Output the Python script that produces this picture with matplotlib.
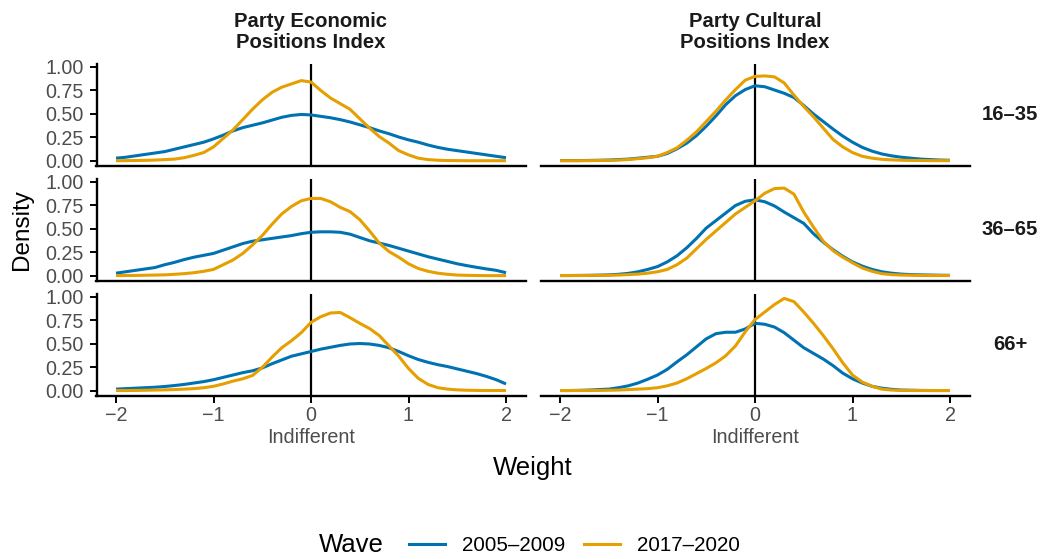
import numpy as np
import matplotlib.pyplot as plt
from matplotlib.lines import Line2D

plt.rcParams['font.family'] = ['Liberation Sans', 'DejaVu Sans']

# ------------------------------------------------------------
# Density estimates of weights, evaluated on a grid from -2 to 2
# ------------------------------------------------------------

weight_grid = np.linspace(-2, 2, 41)

waves = ["2005–2009", "2017–2020"]
age_groups = ["16–35", "36–65", "66+"]
indices = ["Party Economic\nPositions Index", "Party Cultural\nPositions Index"]

econ_1635_w1 = [0.03, 0.04, 0.055, 0.07, 0.085, 0.10, 0.125, 0.15, 0.175, 0.20, 0.235,
                0.275, 0.32, 0.355, 0.38, 0.405, 0.435, 0.465, 0.485, 0.495, 0.49,
                0.475, 0.46, 0.44, 0.415, 0.385, 0.355, 0.32, 0.29, 0.255, 0.225,
                0.2, 0.17, 0.145, 0.125, 0.11, 0.095, 0.08, 0.065, 0.05, 0.035]
econ_1635_w2 = [0.003, 0.004, 0.005, 0.007, 0.01, 0.015, 0.02, 0.035, 0.06, 0.09, 0.15,
                0.24, 0.33, 0.44, 0.55, 0.65, 0.73, 0.785, 0.82, 0.855, 0.84,
                0.75, 0.67, 0.61, 0.55, 0.45, 0.35, 0.26, 0.19, 0.11, 0.065,
                0.03, 0.015, 0.008, 0.005, 0.004, 0.003, 0.003, 0.003, 0.003, 0.003]

econ_3665_w1 = [0.03, 0.045, 0.06, 0.075, 0.09, 0.12, 0.145, 0.175, 0.2, 0.22, 0.24,
                0.275, 0.31, 0.345, 0.37, 0.385, 0.40, 0.415, 0.43, 0.45, 0.465,
                0.47, 0.47, 0.465, 0.445, 0.41, 0.375, 0.35, 0.325, 0.295, 0.265,
                0.235, 0.205, 0.18, 0.155, 0.13, 0.11, 0.092, 0.075, 0.06, 0.035]
econ_3665_w2 = [0.005, 0.005, 0.006, 0.008, 0.01, 0.012, 0.018, 0.025, 0.035, 0.05, 0.07,
                0.12, 0.17, 0.24, 0.33, 0.43, 0.55, 0.66, 0.74, 0.8, 0.825,
                0.825, 0.79, 0.73, 0.685, 0.60, 0.48, 0.35, 0.26, 0.2, 0.13,
                0.08, 0.05, 0.03, 0.018, 0.01, 0.007, 0.005, 0.004, 0.004, 0.004]

econ_66_w1 = [0.02, 0.025, 0.03, 0.035, 0.04, 0.048, 0.058, 0.07, 0.085, 0.1, 0.12,
              0.145, 0.17, 0.195, 0.215, 0.245, 0.29, 0.33, 0.37, 0.395, 0.42,
              0.445, 0.465, 0.485, 0.5, 0.505, 0.5, 0.485, 0.46, 0.42, 0.375,
              0.335, 0.305, 0.28, 0.26, 0.235, 0.21, 0.185, 0.155, 0.12, 0.075]
econ_66_w2 = [0.005, 0.005, 0.006, 0.008, 0.01, 0.012, 0.015, 0.02, 0.025, 0.035, 0.05,
              0.075, 0.105, 0.13, 0.165, 0.25, 0.36, 0.46, 0.535, 0.62, 0.73,
              0.79, 0.83, 0.835, 0.78, 0.72, 0.665, 0.59, 0.48, 0.37, 0.24,
              0.135, 0.07, 0.035, 0.02, 0.012, 0.008, 0.006, 0.005, 0.005, 0.005]

culture_1635_w1 = [0.005, 0.005, 0.005, 0.006, 0.008, 0.01, 0.015, 0.02, 0.03, 0.04, 0.05,
                   0.08, 0.13, 0.19, 0.27, 0.37, 0.48, 0.6, 0.695, 0.76, 0.80,
                   0.79, 0.755, 0.72, 0.675, 0.59, 0.5, 0.42, 0.34, 0.265, 0.2,
                   0.145, 0.105, 0.075, 0.055, 0.04, 0.03, 0.02, 0.015, 0.01, 0.008]
culture_1635_w2 = [0.003, 0.003, 0.003, 0.004, 0.005, 0.007, 0.01, 0.015, 0.025, 0.035, 0.05,
                   0.09, 0.14, 0.22, 0.31, 0.42, 0.53, 0.65, 0.76, 0.86, 0.90,
                   0.905, 0.895, 0.83, 0.70, 0.58, 0.47, 0.35, 0.23, 0.15, 0.09,
                   0.05, 0.03, 0.018, 0.012, 0.008, 0.006, 0.005, 0.004, 0.004, 0.004]

culture_3665_w1 = [0.005, 0.005, 0.006, 0.007, 0.009, 0.012, 0.018, 0.028, 0.045, 0.07, 0.10,
                   0.15, 0.215, 0.3, 0.4, 0.51, 0.59, 0.67, 0.75, 0.795, 0.81,
                   0.79, 0.745, 0.68, 0.62, 0.56, 0.45, 0.36, 0.28, 0.21, 0.15,
                   0.105, 0.07, 0.045, 0.03, 0.02, 0.015, 0.012, 0.01, 0.008, 0.007]
culture_3665_w2 = [0.005, 0.005, 0.005, 0.006, 0.007, 0.008, 0.01, 0.015, 0.02, 0.03, 0.045,
                   0.07, 0.12, 0.19, 0.29, 0.39, 0.48, 0.57, 0.66, 0.73, 0.8,
                   0.88, 0.93, 0.935, 0.87, 0.68, 0.52, 0.37, 0.27, 0.2, 0.14,
                   0.085, 0.05, 0.025, 0.015, 0.01, 0.008, 0.006, 0.005, 0.005, 0.005]

culture_66_w1 = [0.005, 0.005, 0.007, 0.01, 0.015, 0.02, 0.035, 0.055, 0.085, 0.125, 0.17,
                 0.23, 0.31, 0.385, 0.47, 0.555, 0.61, 0.625, 0.625, 0.66, 0.72,
                 0.71, 0.68, 0.62, 0.54, 0.46, 0.4, 0.34, 0.27, 0.19, 0.13,
                 0.085, 0.05, 0.03, 0.018, 0.01, 0.008, 0.006, 0.005, 0.005, 0.005]
culture_66_w2 = [0.005, 0.005, 0.005, 0.005, 0.006, 0.008, 0.01, 0.015, 0.02, 0.025, 0.035,
                 0.055, 0.085, 0.13, 0.185, 0.24, 0.3, 0.375, 0.48, 0.63, 0.76,
                 0.84, 0.92, 0.985, 0.95, 0.84, 0.72, 0.59, 0.45, 0.3, 0.17,
                 0.095, 0.05, 0.02, 0.01, 0.007, 0.005, 0.005, 0.005, 0.005, 0.005]

# rows = age groups, columns = index; each cell holds (wave 1, wave 2)
panels = [
    [(econ_1635_w1, econ_1635_w2), (culture_1635_w1, culture_1635_w2)],
    [(econ_3665_w1, econ_3665_w2), (culture_3665_w1, culture_3665_w2)],
    [(econ_66_w1, econ_66_w2), (culture_66_w1, culture_66_w2)],
]

x_ticks = [-2, -1, 0, 1, 2]
x_tick_labels = ["−2", "−1", "0\nIndifferent", "1", "2"]
y_ticks = [0, 0.25, 0.5, 0.75, 1.0]
y_tick_labels = ["0.00", "0.25", "0.50", "0.75", "1.00"]

wave_colors = ["#0072B2", "#E69F00"]
tick_grey = "#4D4D4D"
strip_black = "#1A1A1A"

# ------------------------------------------------------------
# Figure / panel grid (pixel layout)
# ------------------------------------------------------------

W, H = 1043, 559
fig = plt.figure(figsize=(W / 100, H / 100), dpi=100)

col_x0 = [96.5, 540.5]
col_w = 429.0
row_top = [63.7, 178.7, 293.7]
row_h = 101.9

for r in range(3):
    for c in range(2):
        ax = fig.add_axes([col_x0[c] / W, 1 - (row_top[r] + row_h) / H,
                           col_w / W, row_h / H])
        ax.set_facecolor("none")

        ax.axvline(0, color="black", lw=1.6, zorder=1)
        for series, color in zip(panels[r][c], wave_colors):
            ax.plot(weight_grid, series, color=color, lw=2.2,
                    solid_capstyle="butt", zorder=2)

        ax.set_xlim(-2.2, 2.2)
        ax.set_ylim(-0.049, 1.035)

        for side in ["top", "right"]:
            ax.spines[side].set_visible(False)
        ax.spines["bottom"].set_linewidth(1.7)
        ax.spines["left"].set_linewidth(1.7)

        if c == 0:
            ax.set_yticks(y_ticks)
            ax.set_yticklabels(y_tick_labels)
            ax.tick_params(axis="y", length=4.8, width=1.4, pad=4.5,
                           labelsize=14.2, labelcolor=tick_grey)
        else:
            ax.spines["left"].set_visible(False)
            ax.set_yticks([])

        ax.set_xticks(x_ticks)
        if r == 2:
            ax.set_xticklabels(x_tick_labels)
            ax.tick_params(axis="x", length=4.8, width=1.4, pad=3,
                           labelsize=14.2, labelcolor=tick_grey)
            for lbl in ax.get_xticklabels():
                lbl.set_linespacing(1.15)
        else:
            ax.tick_params(axis="x", length=0, labelbottom=False)

# Column strips
for c in range(2):
    fig.text((col_x0[c] + col_w / 2) / W, 1 - 32 / H, indices[c],
             ha="center", va="center", fontsize=14.6, fontweight="bold",
             color=strip_black, linespacing=1.1)

# Row strips
for r in range(3):
    fig.text(1010 / W, 1 - (row_top[r] + row_h / 2) / H, age_groups[r],
             ha="center", va="center", fontsize=14.6, fontweight="bold",
             color=strip_black)

# Axis titles
fig.text(22 / W, 1 - 229.6 / H, "Density", rotation=90,
         ha="center", va="center", fontsize=17.5)
fig.text(533 / W, 1 - 467.5 / H, "Weight", ha="center", va="center", fontsize=18.5)

# Legend
handles = [Line2D([], [], color=col, lw=2.2) for col in wave_colors]
fig.legend(handles, waves, loc="center", ncol=2, frameon=False,
           bbox_to_anchor=(574.5 / W, 1 - 545.5 / H), fontsize=14.8,
           handlelength=1.75, handletextpad=0.85, columnspacing=0.9)
fig.text(384 / W, 1 - 545.5 / H, "Wave", ha="right", va="center", fontsize=18.5)

fig.savefig("out.png", dpi=100)
